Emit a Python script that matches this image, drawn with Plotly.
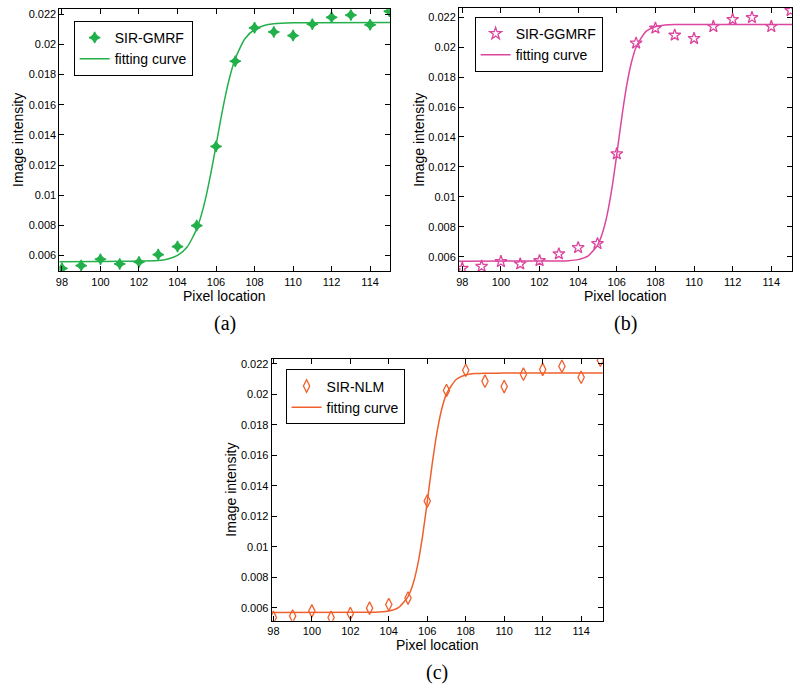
import plotly.graph_objects as go

# ---------------- data ----------------
pixel_location = [98, 99, 100, 101, 102, 103, 104, 105, 106, 107, 108, 109, 110, 111, 112, 113, 114, 115]

sir_gmrf = [0.00516, 0.00534, 0.00576, 0.00545, 0.00558, 0.00607, 0.00660, 0.00799, 0.01324,
            0.01889, 0.02110, 0.02083, 0.02059, 0.02134, 0.02180, 0.02195, 0.02130, 0.02220]
sir_ggmrf = [0.00522, 0.00535, 0.00567, 0.00551, 0.00573, 0.00618, 0.00660, 0.00687, 0.01287,
             0.02027, 0.02127, 0.02080, 0.02058, 0.02138, 0.02185, 0.02198, 0.02138, 0.02245]
sir_nlm = [0.00537, 0.00546, 0.00580, 0.00537, 0.00563, 0.00598, 0.00622, 0.00664, 0.01300,
           0.02025, 0.02158, 0.02086, 0.02051, 0.02132, 0.02163, 0.02184, 0.02112, 0.02224]

# fitted curves, sampled at these locations
fit_x = [97.8, 103, 103.5, 104, 104.5, 105, 105.25, 105.5, 105.75, 106, 106.25, 106.5,
         106.75, 107, 107.5, 108, 108.5, 109, 110, 115.2]
fit_gmrf = [0.00560, 0.00567, 0.00577, 0.00601, 0.00657, 0.00777, 0.00875, 0.01003, 0.01158,
            0.01331, 0.01506, 0.01667, 0.01802, 0.01907, 0.02038, 0.02099, 0.02126, 0.02137,
            0.02143, 0.02145]
fit_ggmrf = [0.00570, 0.00571, 0.00573, 0.00580, 0.00603, 0.00676, 0.00755, 0.00879, 0.01059,
             0.01284, 0.01523, 0.01734, 0.01894, 0.02000, 0.02104, 0.02137, 0.02148, 0.02151,
             0.02152, 0.02152]
fit_nlm = [0.00570, 0.00571, 0.00573, 0.00579, 0.00601, 0.00674, 0.00753, 0.00880, 0.01065,
           0.01296, 0.01537, 0.01747, 0.01902, 0.02003, 0.02097, 0.02127, 0.02136, 0.02138,
           0.02139, 0.02139]

x_ticks = [98, 100, 102, 104, 106, 108, 110, 112, 114]
y_ticks = [0.006, 0.008, 0.010, 0.012, 0.014, 0.016, 0.018, 0.020, 0.022]
y_tick_labels = ["0.006", "0.008", "0.01", "0.012", "0.014", "0.016", "0.018", "0.02", "0.022"]

series_names = ["SIR-GMRF", "SIR-GGMRF", "SIR-NLM"]
captions = ["(a)", "(b)", "(c)"]

# ---------------- styling ----------------
W, H = 800, 693
colors = ["#22b04b", "#dc469f", "#f0602c"]
symbols = ["star-diamond", "star-open", "diamond-tall-open"]
msizes = [8, 9, 9]
# plot areas in pixels (left, right, top, bottom)
boxes = [(55.7, 388.3, 8.3, 270.7), (457.3, 792.3, 7.0, 270.7), (269.0, 601.7, 358.3, 620.7)]
x_ranges = [[97.87, 115.05], [97.83, 115.09], [97.91, 115.12]]
y_ranges = [[0.00496, 0.02233], [0.00502, 0.02262], [0.00515, 0.02233]]
legend_pos = [(70.0, 20.0), (473.0, 16.0), (283.0, 369.0)]

points = [sir_gmrf, sir_ggmrf, sir_nlm]
fits = [fit_gmrf, fit_ggmrf, fit_nlm]

fig = go.Figure()
font_family = "Liberation Sans, Arial, sans-serif"

for i in range(3):
    sfx = "" if i == 0 else str(i + 1)
    xa = "x" + sfx
    ya = "y" + sfx
    leg = "legend" + sfx
    fig.add_trace(go.Scatter(
        x=pixel_location, y=points[i], mode="markers", name=series_names[i],
        xaxis=xa, yaxis=ya, legend=leg,
        marker=dict(symbol=symbols[i], size=msizes[i], color=colors[i],
                    line=dict(color=colors[i], width=1.3)),
    ))
    fig.add_trace(go.Scatter(
        x=fit_x, y=fits[i], mode="lines", name="fitting curve",
        xaxis=xa, yaxis=ya, legend=leg,
        line=dict(color=colors[i], width=1.5, shape="spline", smoothing=0.6),
    ))

    l, r, t, b = boxes[i]
    xdom = [l / W, r / W]
    ydom = [1 - b / H, 1 - t / H]
    axis_common = dict(showline=True, linecolor="black", linewidth=1, mirror="ticks",
                       ticks="inside", ticklen=5, tickcolor="black", showgrid=False,
                       zeroline=False, tickfont=dict(family=font_family, size=11, color="black"))
    fig.layout["xaxis" + sfx] = dict(domain=xdom, range=x_ranges[i], anchor=ya,
                                     tickvals=x_ticks, **axis_common)
    fig.layout["yaxis" + sfx] = dict(domain=ydom, range=y_ranges[i], anchor=xa,
                                     tickvals=y_ticks, ticktext=y_tick_labels, **axis_common)

    lx, ly = legend_pos[i]
    fig.layout[leg] = dict(x=lx / W, y=1 - ly / H, xanchor="left", yanchor="top",
                           xref="paper", yref="paper",
                           bgcolor="white", bordercolor="black", borderwidth=1,
                           font=dict(family=font_family, size=14, color="black"),
                           tracegroupgap=0, itemwidth=30)

    cx = (l + r) / 2
    cy = (t + b) / 2
    fig.add_annotation(text="Pixel location", x=cx / W, y=1 - (b + 24.5) / H,
                       xref="paper", yref="paper", showarrow=False,
                       xanchor="center", yanchor="middle",
                       font=dict(family=font_family, size=14, color="black"))
    fig.add_annotation(text="Image intensity", x=(l - 41) / W, y=1 - cy / H,
                       xref="paper", yref="paper", showarrow=False, textangle=-90,
                       xanchor="center", yanchor="middle",
                       font=dict(family=font_family, size=14, color="black"))
    fig.add_annotation(text=captions[i], x=cx / W, y=1 - (b + 52) / H,
                       xref="paper", yref="paper", showarrow=False,
                       xanchor="center", yanchor="middle",
                       font=dict(family="Liberation Serif, Times New Roman, serif", size=20,
                                 color="black"))

fig.update_layout(width=W, height=H, margin=dict(l=0, r=0, t=0, b=0),
                  paper_bgcolor="white", plot_bgcolor="white", showlegend=True)

fig.write_html("out.html", config={"displayModeBar": False},
               post_script="document.body.style.margin='0px';document.body.style.overflow='hidden';")
